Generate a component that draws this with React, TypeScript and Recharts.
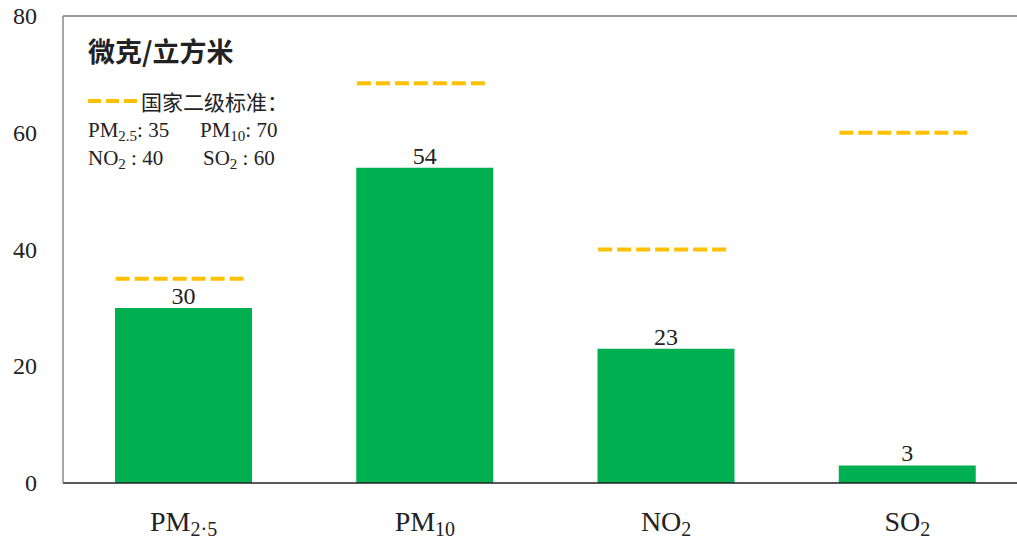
import { ComposedChart, Bar, Scatter, XAxis, YAxis, ReferenceLine, LabelList } from 'recharts'

const categories = ['PM2.5', 'PM10', 'NO2', 'SO2']
const measured = [30, 54, 23, 3]
const standards = [35, 68.5, 40, 60]
const tickMain = ['PM', 'PM', 'NO', 'SO']
const tickSub = ['2·5', '10', '2', '2']
const yTicks = [0, 20, 40, 60, 80]

const GREEN = '#00B050'
const GOLD = '#FFC000'
const SERIF = '"Liberation Serif", "Times New Roman", serif'
const CJK = '"Noto Sans CJK SC", sans-serif'

const chartData = categories.map((name, i) => ({
  name,
  value: measured[i],
  standard: standards[i],
}))

// dashed segment for the national standard, starting at the bar's left edge
function StandardMark(props: any) {
  const { cx, cy } = props
  if (cx == null || cy == null) return null
  return (
    <line
      x1={cx - 68}
      x2={cx + 61}
      y1={cy}
      y2={cy}
      stroke={GOLD}
      strokeWidth={4}
      strokeDasharray="14 5"
    />
  )
}

function CategoryTick(props: any) {
  const { x, y, index } = props
  return (
    <text x={x} y={y + 40} textAnchor="middle" fill="#222" fontFamily={SERIF}>
      <tspan fontSize={28}>{tickMain[index]}</tspan>
      <tspan fontSize={20} dy={5}>{tickSub[index]}</tspan>
    </text>
  )
}

function ValueTick(props: any) {
  const { x, y, payload } = props
  return (
    <text x={x} y={y + 8} textAnchor="end" fill="#222" fontFamily={SERIF} fontSize={24}>
      {payload.value}
    </text>
  )
}

function Notes() {
  return (
    <svg width={1017} height={543} style={{ position: 'absolute', left: 0, top: 0, pointerEvents: 'none' }}>
      <text x={88} y={62} fontFamily={CJK} fontWeight="bold" fontSize={27} fill="#222">微克/立方米</text>
      <line x1={88} x2={140} y1={101} y2={101} stroke={GOLD} strokeWidth={4} strokeDasharray="13 5" />
      <text x={141} y={110} fontFamily={CJK} fontSize={21} fill="#222">国家二级标准：</text>
      <text x={88} y={137} fontFamily={SERIF} fontSize={21} fill="#222">
        PM<tspan fontSize={15} dy={4}>2.5</tspan><tspan dy={-4}>: 35</tspan>
      </text>
      <text x={200} y={137} fontFamily={SERIF} fontSize={21} fill="#222">
        PM<tspan fontSize={15} dy={4}>10</tspan><tspan dy={-4}>: 70</tspan>
      </text>
      <text x={88} y={165} fontFamily={SERIF} fontSize={21} fill="#222">
        NO<tspan fontSize={15} dy={4}>2</tspan><tspan dy={-4}> : 40</tspan>
      </text>
      <text x={203} y={165} fontFamily={SERIF} fontSize={21} fill="#222">
        SO<tspan fontSize={15} dy={4}>2</tspan><tspan dy={-4}> : 60</tspan>
      </text>
    </svg>
  )
}

export default function App() {
  return (
    <div style={{ position: 'absolute', left: 0, top: 0, width: 1017, height: 543, overflow: 'hidden', background: '#fff', fontFamily: SERIF }}>
      <ComposedChart
        width={1040}
        height={543}
        data={chartData}
        margin={{ top: 16, right: 12, bottom: 0, left: 0 }}
        style={{ fontFamily: SERIF }}
      >
        <XAxis
          dataKey="name"
          height={60}
          tickLine={false}
          axisLine={{ stroke: '#222', strokeWidth: 1.5 }}
          tick={<CategoryTick />}
          interval={0}
        />
        <YAxis
          width={63}
          domain={[0, 80]}
          ticks={yTicks}
          tickLine={false}
          tickSize={6}
          tickMargin={20}
          axisLine={{ stroke: '#888', strokeWidth: 1.5 }}
          tick={<ValueTick />}
        />
        <ReferenceLine y={80} stroke="#777" strokeWidth={1.5} />
        <Bar dataKey="value" fill={GREEN} barSize={137} isAnimationActive={false}>
          <LabelList
            dataKey="value"
            position="top"
            offset={4}
            fill="#222"
            fontSize={24}
            style={{ fontFamily: SERIF }}
          />
        </Bar>
        <Scatter dataKey="standard" shape={<StandardMark />} isAnimationActive={false} />
      </ComposedChart>
      <Notes />
    </div>
  )
}
